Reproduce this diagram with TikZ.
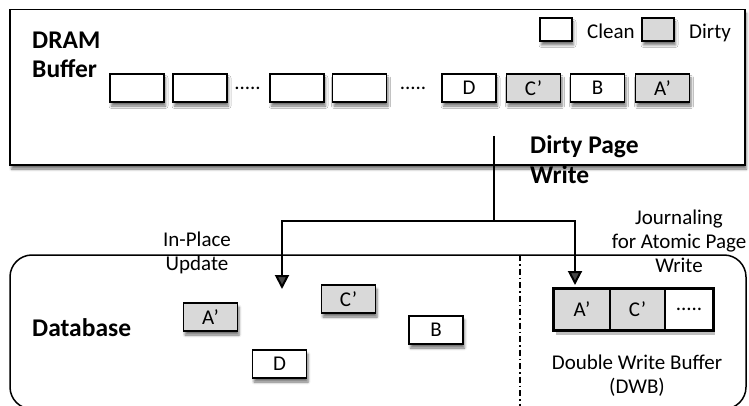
\documentclass[tikz,border=0pt]{standalone}
\usepackage{fontspec}
\setmainfont{Carlito}
\usetikzlibrary{arrows.meta,shadows.blur}

\definecolor{dirtyfill}{HTML}{D9D9D9}

\tikzset{
  bigtext/.style={font=\bfseries\fontsize{25.5}{29}\selectfont, inner sep=0pt},
  smalltext/.style={font=\fontsize{21}{24}\selectfont, inner sep=0pt},
  softshadow/.style={blur shadow={shadow xshift=1.5pt, shadow yshift=-4pt,
      shadow blur radius=2.5pt, shadow opacity=55}},
  pagebox/.style={draw, line width=1.8pt, minimum width=54pt, minimum height=28pt,
      inner sep=0pt, fill=white, softshadow, font=\fontsize{21}{24}\selectfont},
  cleanpage/.style={pagebox},
  dirtypage/.style={pagebox, fill=dirtyfill},
  legendbox/.style={draw, line width=1.8pt, minimum width=32pt, minimum height=23pt,
      inner sep=0pt, softshadow},
  dwbcell/.style={draw, line width=1.2pt, minimum height=41pt, inner sep=0pt,
      font=\fontsize{21}{24}\selectfont},
  frame/.style={draw, line width=1.5pt},
  flow/.style={line width=2pt},
  flowarrow/.style={flow, -{Triangle[width=14pt,length=14pt]}},
}

\begin{document}
\begin{tikzpicture}[x=1pt, y=-1pt]
  \useasboundingbox (0,0) rectangle (749,406);

  % DRAM buffer frame
  \draw[frame, fill=white, softshadow] (10,9.5) rectangle (745,165);
  % multi-line labels are placed by the baseline of their last line
  \node[bigtext, anchor=base west, align=left] (dramlbl) at (32,78) {DRAM\\Buffer};

  % legend
  \node[legendbox, fill=white] (lgclean) at (556,29.5) {};
  \node[smalltext, anchor=base west] (lgcleantxt) at (587,39) {Clean};
  \node[legendbox, fill=dirtyfill] (lgdirty) at (658,29.5) {};
  \node[smalltext, anchor=base west] (lgdirtytxt) at (689,39) {Dirty};

  % pages held in the buffer
  \node[cleanpage] (p1) at (137,88) {};
  \node[cleanpage] (p2) at (200,88) {};
  \node[smalltext, anchor=base] (dots1) at (247.5,90) {.....};
  \node[cleanpage] (p3) at (297,88) {};
  \node[cleanpage] (p4) at (359.5,88) {};
  \node[smalltext, anchor=base] (dots2) at (413,90) {.....};
  \node[cleanpage] (pD) at (469,88) {D};
  \node[dirtypage] (pC) at (533.5,88) {C’};
  \node[cleanpage] (pB) at (597.5,88) {B};
  \node[dirtypage] (pA) at (662.5,88) {A’};

  % database
  \draw[frame, rounded corners=22pt] (10,255) rectangle (746,409);
  \draw[line width=1.2pt, dash pattern=on 6pt off 3pt on 1.5pt off 3pt]
    (520,255) -- (520,406);
  \node[bigtext, anchor=base west] (dblbl) at (32,336) {Database};

  \node[dirtypage] (dbA) at (210.5,317) {A’};
  \node[cleanpage] (dbD) at (279.5,364) {D};
  \node[dirtypage] (dbC) at (348.5,299) {C’};
  \node[cleanpage] (dbB) at (436,330) {B};

  % double write buffer
  \fill[black, opacity=0.25] (556,292) rectangle (715,335);
  \node[dwbcell, fill=dirtyfill, minimum width=56pt] (dwbA) at (582,309.5) {A’};
  \node[dwbcell, fill=dirtyfill, minimum width=55pt] (dwbC) at (637.5,309.5) {C’};
  \node[dwbcell, fill=white, minimum width=48pt] (dwbD) at (689,309.5) {.....};
  \draw[line width=2.6pt] (dwbA.north west) rectangle (dwbD.south east);
  \node[smalltext, anchor=base, align=center] (dwblbl) at (637,393)
    {Double Write Buffer\\(DWB)};

  % write paths
  \coordinate (src) at (494,136);
  \coordinate (split) at (494,221);
  \coordinate (ipu) at (282,289);
  \coordinate (jrn) at (575,285);
  \draw[flow] (src) -- (split);
  \draw[flowarrow] (split) -| (ipu);
  \draw[flowarrow] (split) -| (jrn);

  \node[bigtext, anchor=base west, align=left] (dpw) at (530,183) {Dirty Page\\Write};
  \node[smalltext, anchor=base, align=center] (ipulbl) at (197,270) {In-Place\\Update};
  \node[smalltext, anchor=base, align=center] (jrnlbl) at (679,272)
    {Journaling\\for Atomic Page\\Write};
\end{tikzpicture}
\end{document}
